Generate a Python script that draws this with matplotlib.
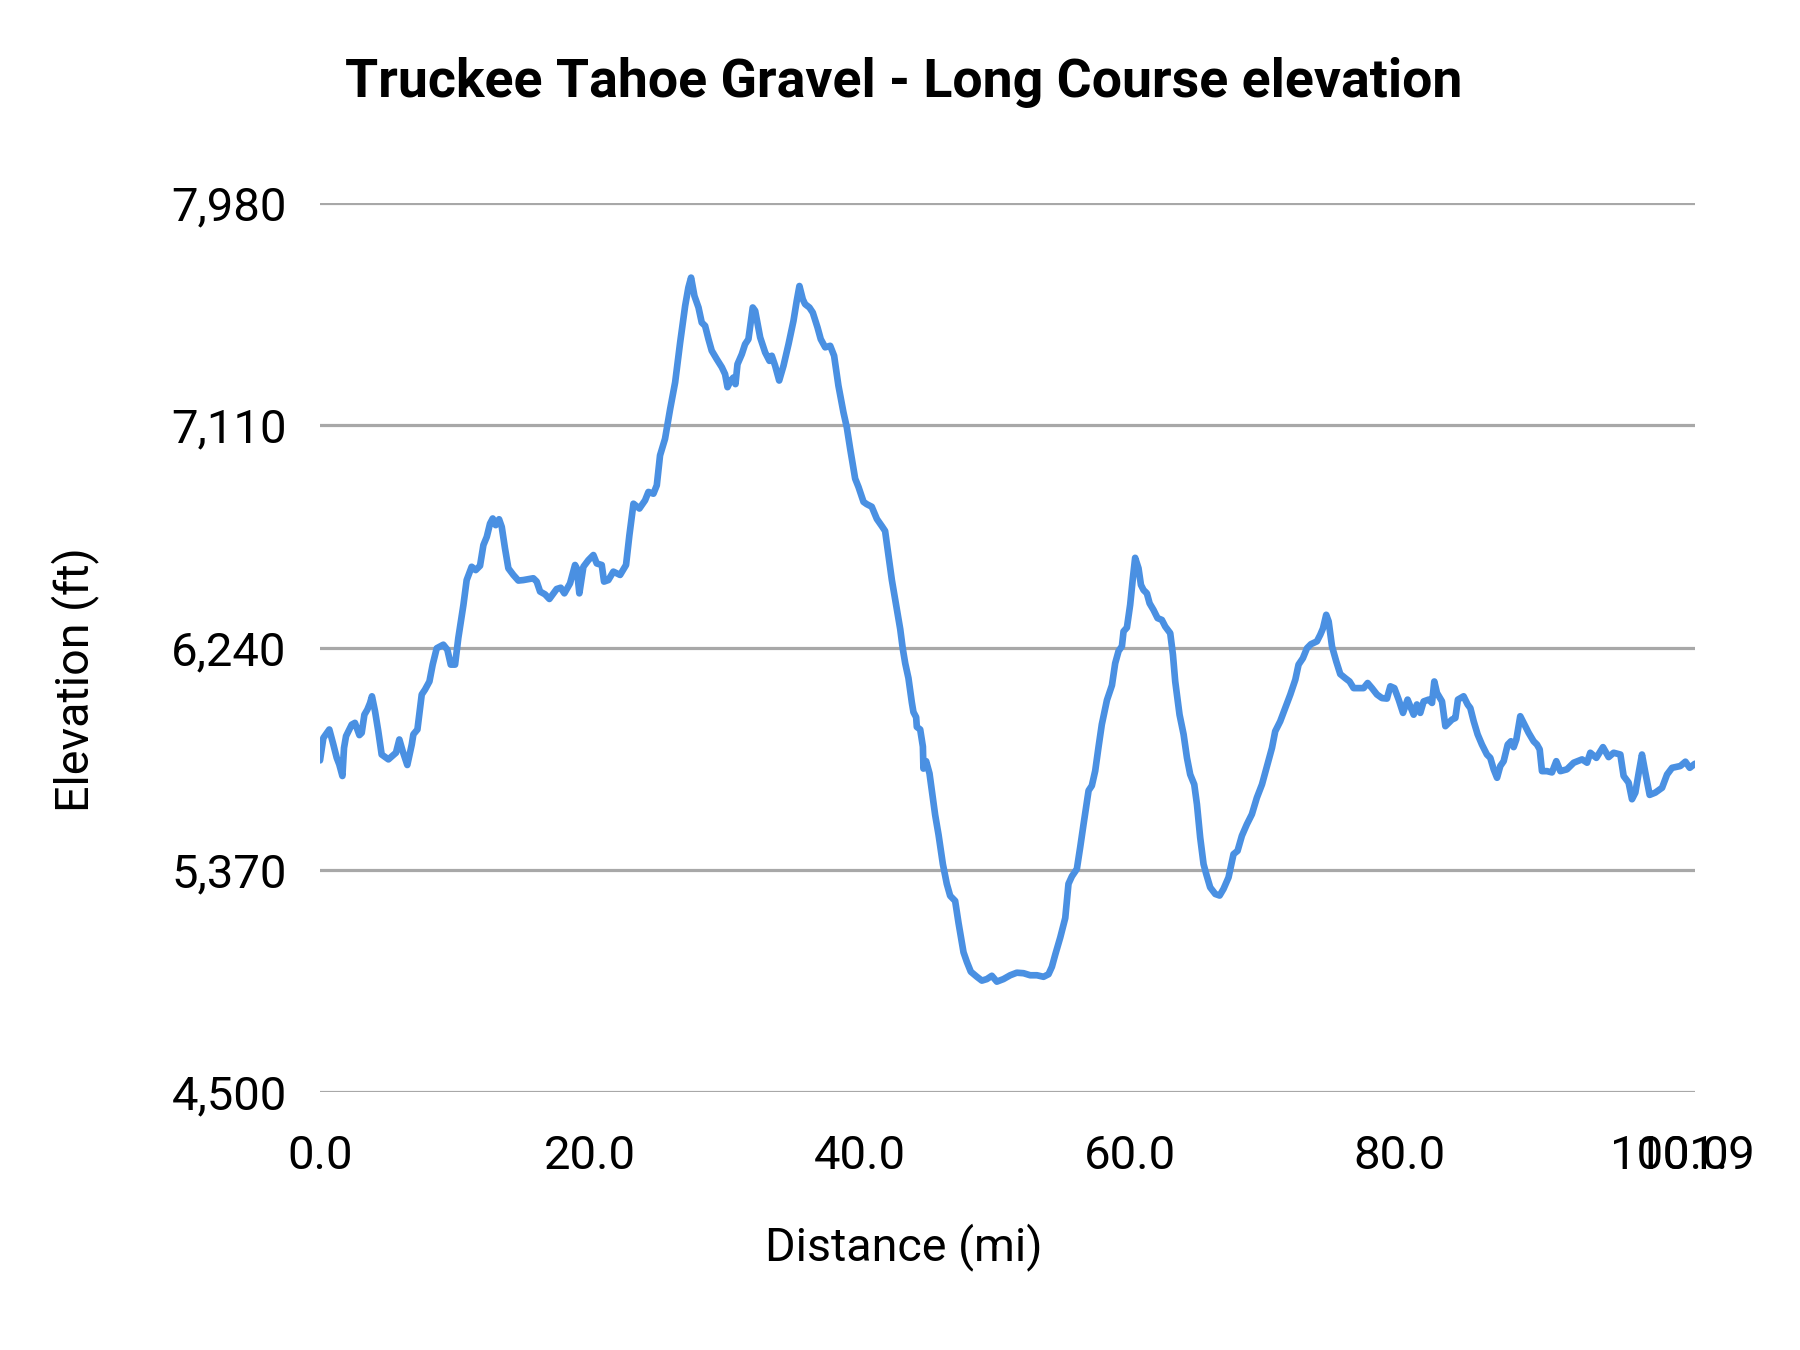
import matplotlib
matplotlib.use("Agg")
import matplotlib.pyplot as plt
from matplotlib.ticker import FixedLocator, FixedFormatter

title = "Truckee Tahoe Gravel - Long Course elevation"
x_label = "Distance (mi)"
y_label = "Elevation (ft)"

distance_mi = [
    0.00, 0.25, 0.69, 0.99, 1.24, 1.43, 1.66, 1.78, 1.93, 2.35, 2.59, 2.92, 3.09, 3.29,
    3.51, 3.71, 3.85, 4.08, 4.32, 4.57, 5.07, 5.63, 5.88, 6.13, 6.47, 6.80, 6.92, 7.22,
    7.54, 7.78, 8.11, 8.35, 8.65, 9.14, 9.44, 9.69, 10.01, 10.25, 10.63, 10.87, 11.24,
    11.54, 11.86, 12.11, 12.36, 12.60, 12.80, 13.02, 13.27, 13.47, 13.71, 13.96, 14.33,
    14.70, 15.07, 15.81, 16.06, 16.31, 16.68, 17.00, 17.54, 17.84, 18.11, 18.53, 18.90,
    19.03, 19.22,
    19.52, 19.89, 20.26, 20.51, 20.88, 21.05, 21.37, 21.74, 22.24, 22.68, 22.93, 23.23,
    23.67, 24.09, 24.34, 24.71, 24.96, 25.20, 25.57, 25.95, 26.32, 26.69, 27.06, 27.30,
    27.50, 27.75, 28.05, 28.29, 28.54, 28.79, 29.03, 29.40, 29.78, 30.02, 30.20, 30.44,
    30.64, 30.79, 30.94, 31.26, 31.50, 31.75, 32.07, 32.25, 32.62, 32.99, 33.31, 33.48,
    33.73, 34.03, 34.35, 34.72, 35.09, 35.33, 35.53, 35.78, 35.95, 36.27, 36.52, 36.87,
    37.11, 37.44, 37.81, 38.10, 38.42, 38.79, 39.04, 39.29, 39.66,
    39.91, 40.28, 40.52, 40.89, 41.27, 41.64, 41.88, 42.13, 42.38, 42.75, 43.00, 43.19,
    43.37, 43.61, 43.86, 43.98, 44.18, 44.23, 44.48, 44.68, 44.72, 44.92, 45.17, 45.34,
    45.59, 45.84, 46.16, 46.45, 46.70, 47.07, 47.32, 47.69, 47.94, 48.23, 48.68, 49.05,
    49.42, 49.79, 50.16, 50.65, 51.15, 51.64, 52.14, 52.63, 53.13, 53.62, 53.99, 54.24,
    54.49, 54.86, 55.23, 55.47, 55.72, 56.09, 56.34, 56.58, 56.96, 57.20, 57.45, 57.70,
    57.94, 58.32, 58.69, 58.93, 59.18, 59.43, 59.55, 59.80,
    60.04, 60.24, 60.41, 60.66, 60.84, 61.03, 61.28, 61.48, 61.77, 62.07, 62.39, 62.64,
    63.01, 63.21, 63.38, 63.70, 64.00, 64.25, 64.49, 64.79, 64.99, 65.23, 65.48, 65.68,
    65.97, 66.35, 66.67, 66.96, 67.33, 67.70, 68.00, 68.32, 68.69, 69.06, 69.43, 69.81,
    70.18, 70.55, 70.79, 71.16, 71.53, 71.91, 72.28, 72.52, 72.84, 73.14, 73.44, 73.88,
    74.13, 74.33, 74.57, 74.75, 75.00, 75.31, 75.61, 75.98, 76.30, 76.60, 77.04, 77.34,
    77.64, 77.96, 78.33, 78.70, 79.07,
    79.32, 79.62, 79.94, 80.26, 80.60, 80.80, 81.05, 81.29, 81.54, 81.79, 82.16, 82.41,
    82.58, 82.78, 83.15, 83.40, 83.64, 83.89, 84.14, 84.33, 84.75, 85.05, 85.25, 85.50,
    85.79, 86.11, 86.48, 86.73, 86.98, 87.23, 87.47, 87.72, 88.02, 88.26, 88.46, 88.66,
    88.95, 89.20, 89.57, 89.94, 90.19, 90.39, 90.56, 90.93, 91.30, 91.62, 91.92, 92.41,
    92.91, 93.53, 93.90, 94.14, 94.59, 95.08, 95.50, 95.87, 96.37, 96.61, 96.98, 97.23,
    97.48, 97.73, 97.97, 98.22, 98.54, 98.96, 99.46, 99.83, 100.20, 100.81, 101.19,
    101.51, 101.90,
]

elevation_ft = [
    5798, 5886, 5919, 5860, 5808, 5782, 5737, 5847, 5893, 5938, 5945, 5897, 5906, 5977,
    5997, 6023, 6049, 5990, 5912, 5821, 5802, 5828, 5880, 5834, 5780, 5860, 5900, 5919,
    6056, 6075, 6107, 6173, 6237, 6251, 6231, 6173, 6173, 6277, 6407, 6504, 6556,
    6543, 6560, 6641, 6673, 6725, 6745, 6719, 6742, 6712, 6628, 6550, 6524,
    6502, 6504, 6511, 6498, 6459, 6448, 6430, 6469, 6474, 6452, 6491, 6563,
    6550, 6452,
    6556, 6582, 6602, 6569, 6563, 6498, 6504, 6537, 6524, 6563, 6680, 6803,
    6784, 6816, 6849, 6842, 6875, 6992, 7057, 7174, 7278, 7434, 7577, 7649,
    7688, 7616, 7571, 7512, 7499, 7447, 7402, 7369, 7337, 7310, 7259, 7285,
    7297, 7271, 7349, 7388, 7427, 7447, 7571, 7558, 7454, 7395, 7362, 7382,
    7343, 7285, 7343, 7427, 7519, 7597, 7655, 7603, 7584, 7571, 7551, 7493,
    7447, 7415, 7421, 7382, 7265, 7161, 7102, 7018, 6901,
    6868, 6810, 6801, 6791, 6743, 6715, 6696, 6600, 6504, 6389, 6312, 6235,
    6178, 6120, 6025, 5987, 5967, 5929, 5919, 5852, 5766, 5795, 5747, 5680,
    5584, 5507, 5392, 5315, 5268, 5248, 5162, 5047, 5009, 4971, 4951, 4936,
    4942, 4955, 4932, 4942, 4957, 4967, 4965, 4957, 4957, 4951, 4961, 4990,
    5038, 5105, 5181, 5315, 5344, 5373, 5459, 5546, 5680, 5699, 5757, 5852,
    5939, 6034, 6092, 6178, 6226, 6245, 6303, 6318,
    6407, 6511, 6591, 6550, 6485, 6465, 6452, 6413, 6387, 6355, 6348, 6322,
    6296, 6212, 6107, 5977, 5900, 5808, 5743, 5704, 5626, 5496, 5392, 5353,
    5301, 5275, 5269, 5295, 5340, 5431, 5444, 5503, 5548, 5587, 5652, 5704,
    5776, 5847, 5912, 5951, 6003, 6056, 6114, 6173, 6198, 6237, 6253, 6264,
    6290, 6315, 6368, 6342, 6244, 6186, 6136, 6120, 6107, 6081, 6081, 6081,
    6101, 6081, 6056, 6042, 6040,
    6088, 6081, 6036, 5984, 6036, 6010, 5977, 6017, 5984, 6029, 6036, 6023,
    6107, 6062, 6029, 5932, 5945, 5958, 5964, 6036, 6049, 6017, 6003, 5951,
    5900, 5860, 5821, 5808, 5763, 5730, 5776, 5795, 5860, 5873, 5850, 5880,
    5971, 5945, 5906, 5873, 5860, 5841, 5756, 5756, 5751, 5795, 5756, 5763,
    5789, 5802, 5789, 5828, 5808, 5850, 5811, 5828, 5821, 5737, 5711, 5646,
    5672, 5750, 5821, 5750, 5663, 5672, 5691, 5743, 5769, 5776, 5793,
    5769, 5785,
]

y_ticks = [4500, 5370, 6240, 7110, 7980]
y_tick_labels = ["4,500", "5,370", "6,240", "7,110", "7,980"]
x_ticks = [0, 20, 40, 60, 80, 100, 101.9]
x_tick_labels = ["0.0", "20.0", "40.0", "60.0", "80.0", "100.0", "101.9"]

plt.rcParams["font.family"] = ["Roboto", "DejaVu Sans"]

fig = plt.figure(figsize=(9, 6.75), dpi=200)
ax = fig.add_axes([320 / 1800, 1 - 1092 / 1350, 1375 / 1800, 889 / 1350])

ax.plot(distance_mi, elevation_ft, color="#4A90E2", linewidth=2.4,
        solid_joinstyle="round", solid_capstyle="round", zorder=3)

ax.set_xlim(0, 101.9)
ax.set_ylim(4500, 7980)
ax.yaxis.set_major_locator(FixedLocator(y_ticks))
ax.yaxis.set_major_formatter(FixedFormatter(y_tick_labels))
ax.xaxis.set_major_locator(FixedLocator(x_ticks))
ax.xaxis.set_major_formatter(FixedFormatter(x_tick_labels))

ax.grid(axis="y", color="#A8A8A8", linewidth=1.15, zorder=1)
ax.grid(axis="x", visible=False)
for s in ax.spines.values():
    s.set_visible(False)
ax.tick_params(axis="both", length=0, labelsize=17, colors="#000000")
ax.tick_params(axis="y", pad=12)
ax.tick_params(axis="x", pad=15)
ax.set_axisbelow(True)

fig.text(0.502, 1 - 97 / 1350, title, ha="center", va="baseline",
         fontsize=19.3, fontweight="bold", color="#000000")
fig.text(904 / 1800, 1 - 1247 / 1350, x_label, ha="center", va="center",
         fontsize=16.8, color="#000000")
fig.text(75 / 1800, 1 - 680 / 1350, y_label, ha="center", va="center",
         rotation=90, fontsize=16.8, color="#000000")

fig.savefig("out.png", dpi=200, facecolor="white")
